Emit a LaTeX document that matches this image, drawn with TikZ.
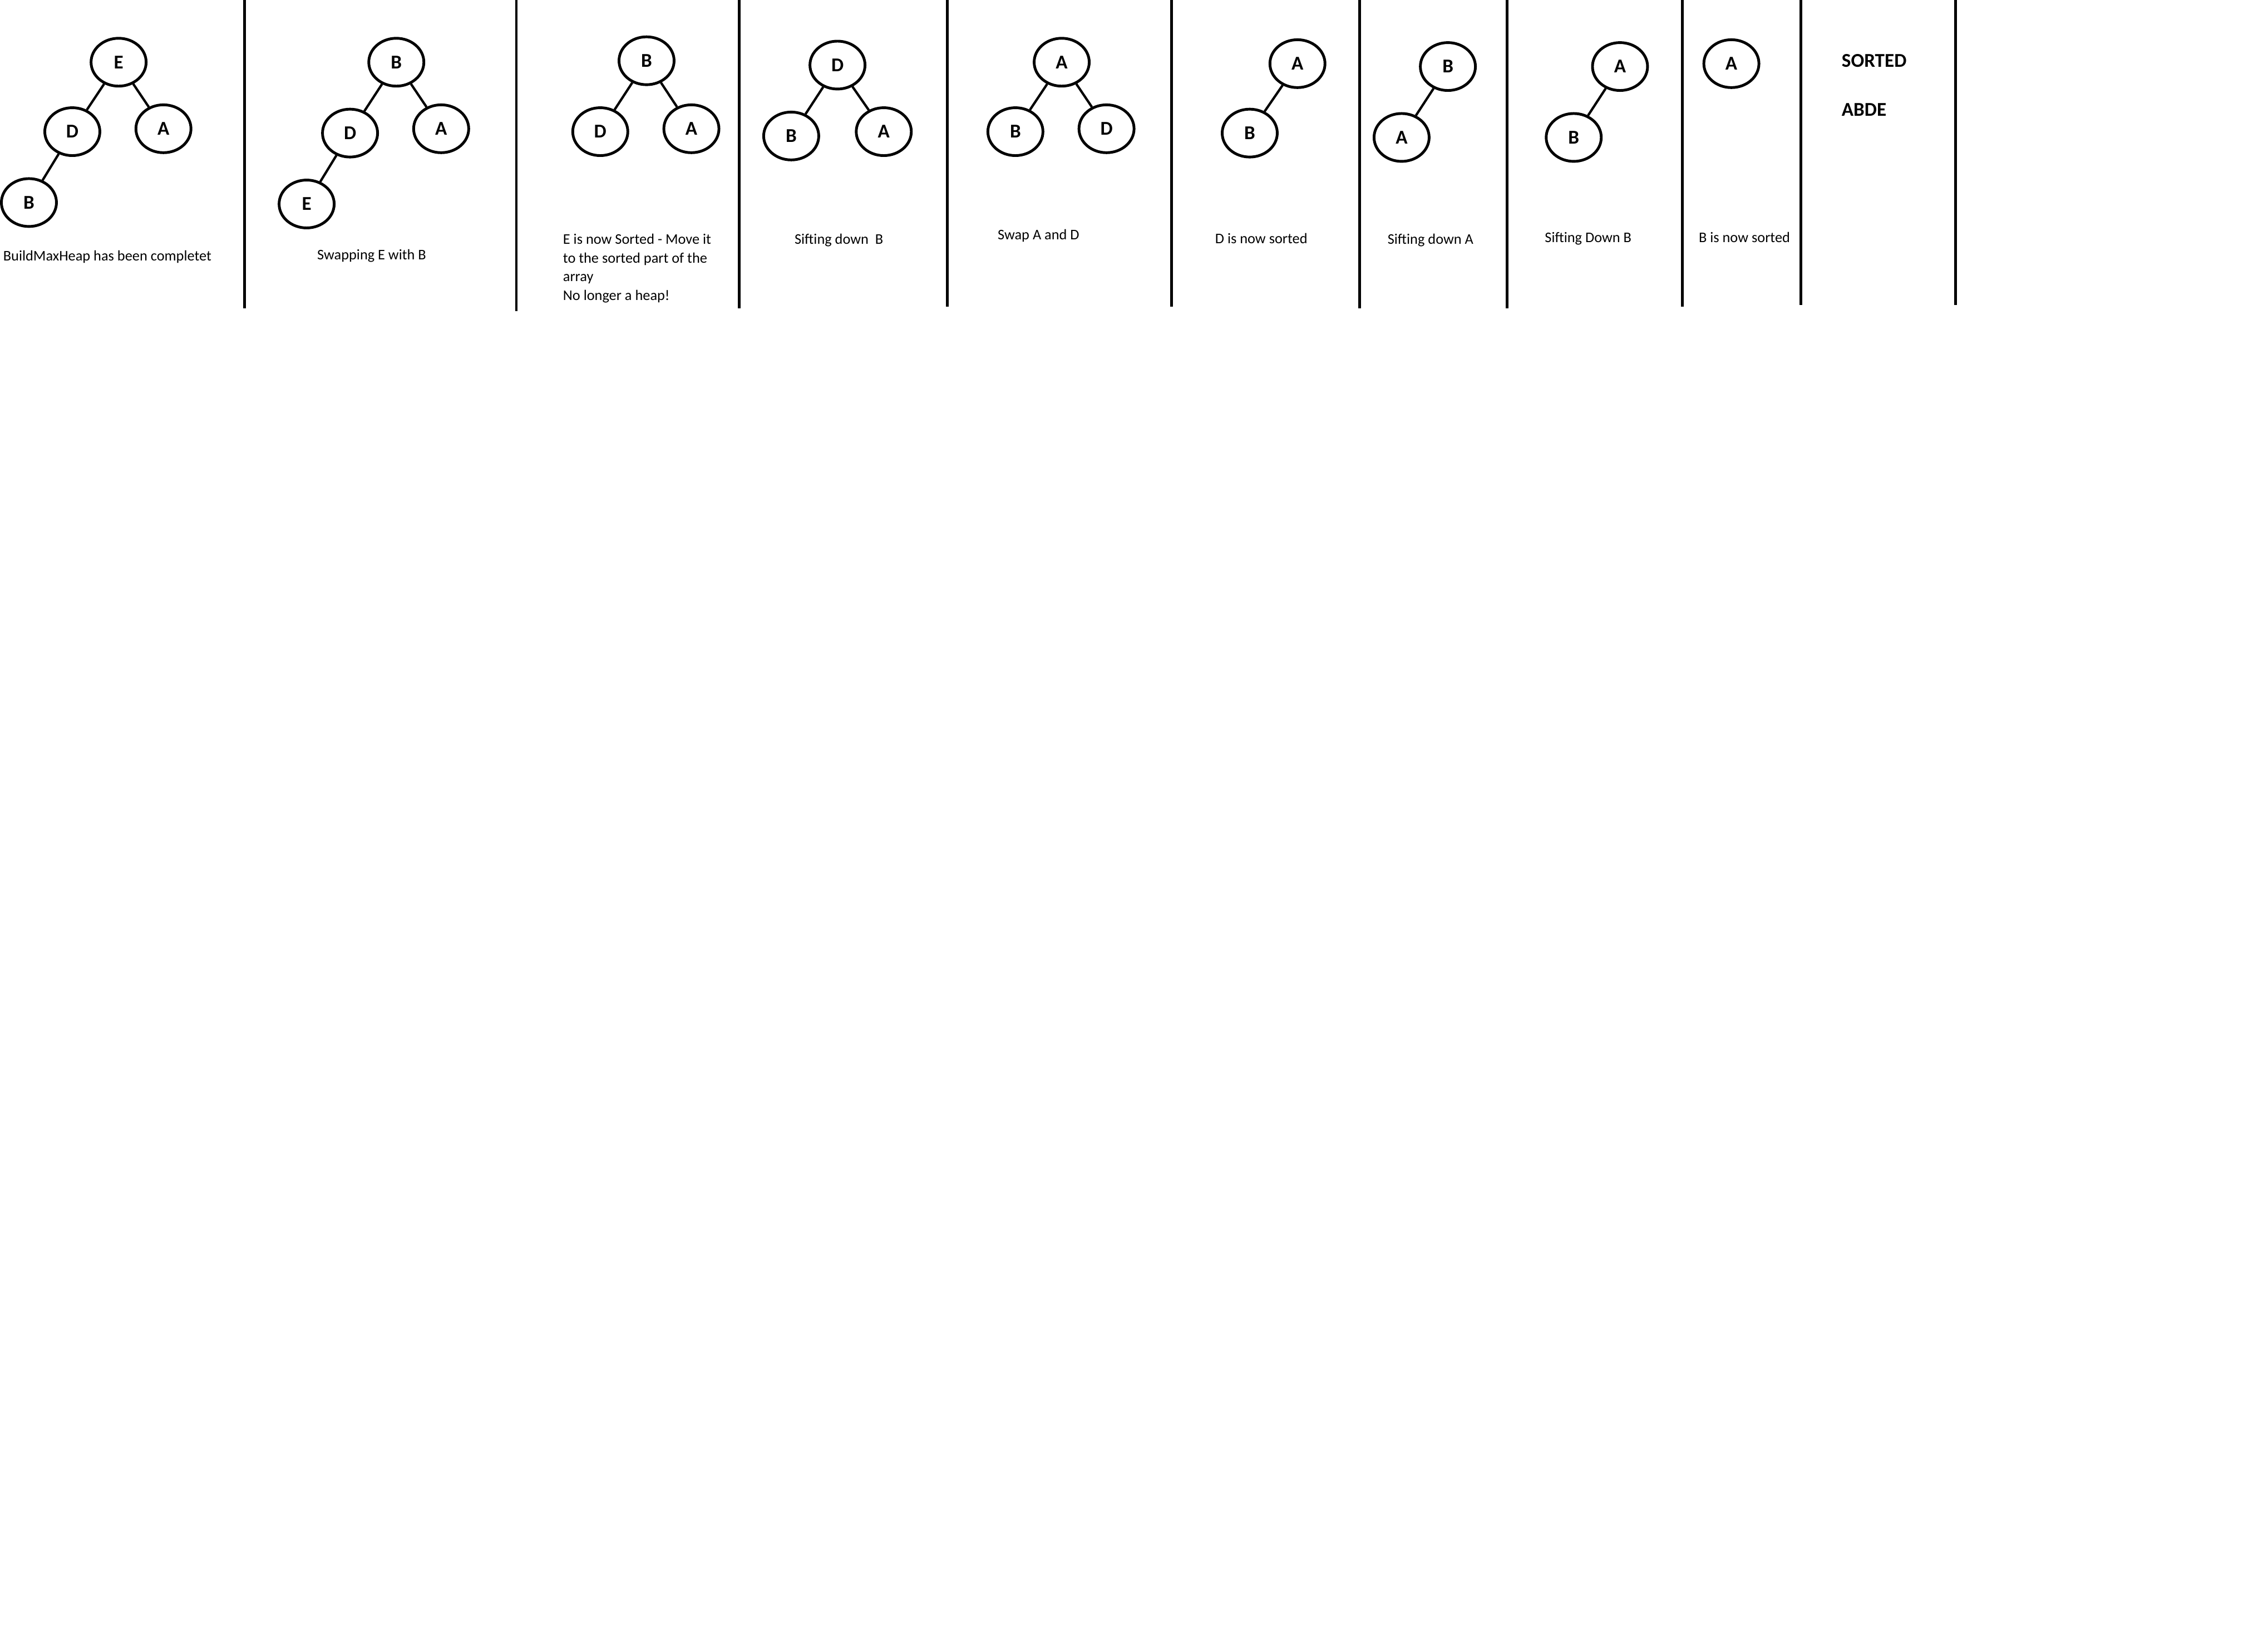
\documentclass[tikz,border=0pt]{standalone}
\usepackage{fontspec}
\setmainfont{Carlito}
\usetikzlibrary{shapes.geometric}

\begin{document}
\begin{tikzpicture}[x=0.026cm,y=-0.026cm,
  heap/.style={draw,ellipse,line width=1.4pt,minimum width=0.99cm,minimum height=0.86cm,inner sep=0pt,font=\bfseries\fontsize{10}{12}\selectfont},
  link/.style={draw,line width=1.2pt},
  sep/.style={draw,line width=1.4pt},
  caption/.style={font=\fontsize{7.5}{9.6}\selectfont},
  title/.style={font=\bfseries\fontsize{10}{12}\selectfont,anchor=west,inner sep=0pt},
]
\useasboundingbox (0,0) rectangle (1568,1139);

% panel separators
\foreach \x/\b in {169/213,357/215,511/213,655/212,810/212,940/213,1042/213,1163/212,1245/211,1352/211}
  \draw[sep] (\x,0) -- (\x,\b);

% BuildMaxHeap done
\node[heap] (e1) at (82,43) {E};
\node[heap] (d1) at (50,91) {D};
\node[heap] (a1) at (113,89) {A};
\node[heap] (b1) at (20,140) {B};
\draw[link] (e1) -- (d1) (e1) -- (a1) (d1) -- (b1);
\node[caption,anchor=west,inner sep=0pt] (c1) at (2,177.5) {BuildMaxHeap has been completet};

% swap E and B
\node[heap] (b2) at (274,43) {B};
\node[heap] (d2) at (242,92) {D};
\node[heap] (a2) at (305,89) {A};
\node[heap] (e2) at (212,141) {E};
\draw[link] (b2) -- (d2) (b2) -- (a2) (d2) -- (e2);
\node[caption] (c2) at (257,177) {Swapping E with B};

% E removed
\node[heap] (b3) at (447,42) {B};
\node[heap] (d3) at (415,91) {D};
\node[heap] (a3) at (478,89) {A};
\draw[link] (b3) -- (d3) (b3) -- (a3);
\node[caption,anchor=west,align=left,inner sep=0pt] (c3) at (389,185.5)
  {E is now Sorted - Move it\\to the sorted part of the\\array\\No longer a heap!};

% sift down B
\node[heap] (d4) at (579,45) {D};
\node[heap] (b4) at (547,94) {B};
\node[heap] (a4) at (611,91) {A};
\draw[link] (d4) -- (b4) (d4) -- (a4);
\node[caption] (c4) at (580,166) {Sifting down\ \ B};

% swap A and D
\node[heap] (a5) at (734,43) {A};
\node[heap] (b5) at (702,91) {B};
\node[heap] (d5) at (765,89) {D};
\draw[link] (a5) -- (b5) (a5) -- (d5);
\node[caption] (c5) at (718,163) {Swap A and D};

% D removed
\node[heap] (a6) at (897,44) {A};
\node[heap] (b6) at (864,92) {B};
\draw[link] (a6) -- (b6);
\node[caption] (c6) at (872,165) {D is now sorted};

% sift down A
\node[heap] (b7) at (1001,46) {B};
\node[heap] (a7) at (969,95) {A};
\draw[link] (b7) -- (a7);
\node[caption] (c7) at (989,166) {Sifting down A};

% sift down B again
\node[heap] (a8) at (1120,46) {A};
\node[heap] (b8) at (1088,95) {B};
\draw[link] (a8) -- (b8);
\node[caption] (c8) at (1098,165) {Sifting Down B};

% B removed
\node[heap] (a9) at (1197,44) {A};
\node[caption] (c9) at (1206,164) {B is now sorted};

% result
\node[title] (sorted) at (1273,42) {SORTED};
\node[title] (result) at (1273,76) {ABDE};

\end{tikzpicture}
\end{document}
